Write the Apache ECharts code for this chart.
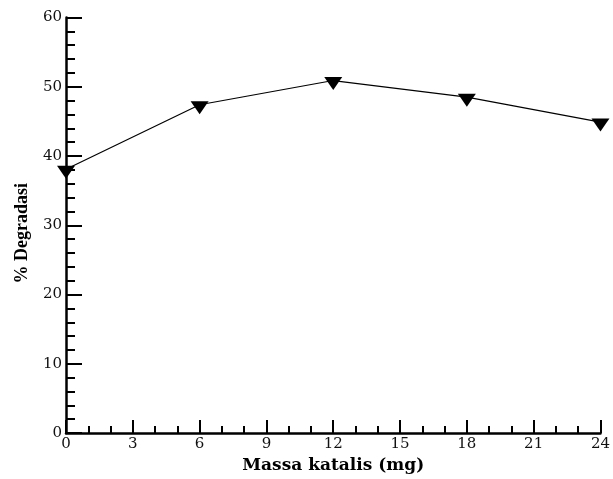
<!DOCTYPE html>
<html>
<head>
<meta charset="utf-8">
<script src="https://cdn.jsdelivr.net/npm/echarts@6/dist/echarts.min.js"></script>
<style>
  html, body { margin: 0; padding: 0; background: #fff; }
  #chart { width: 613px; height: 479px; }
</style>
</head>
<body>
<div id="chart"></div>
<script>
// catalyst mass (mg) and degradation (%)
const massa = [0, 6, 12, 18, 24]
const degradasi = [38.1, 47.4, 50.9, 48.5, 44.9]

const chart = echarts.init(document.getElementById('chart'))

const font = 'DejaVu Serif'

chart.setOption({
  backgroundColor: '#fff',
  animation: false,
  grid: { left: 66, right: 9, top: 17.5, bottom: 41 },
  xAxis: {
    type: 'value',
    min: 0, max: 24, interval: 3,
    name: 'Massa katalis (mg)',
    nameLocation: 'middle',
    nameGap: 23,
    nameTextStyle: { fontFamily: font, fontSize: 17, fontWeight: 'bold', color: '#000' },
    axisLine: { lineStyle: { color: '#000', width: 2.5 } },
    axisTick: { inside: true, length: 13, lineStyle: { color: '#000', width: 2 } },
    minorTick: { show: true, splitNumber: 3, length: 7, lineStyle: { color: '#000', width: 2 } },
    axisLabel: { fontFamily: font, fontSize: 15, color: '#111', margin: 4 },
    splitLine: { show: false }
  },
  yAxis: {
    type: 'value',
    min: 0, max: 60, interval: 10,
    name: '% Degradasi',
    nameLocation: 'middle',
    nameGap: 35,
    nameTextStyle: { fontFamily: 'Liberation Serif', fontSize: 18, fontWeight: 'bold', color: '#000', padding: [0, 16, 0, 0] },
    axisLine: { show: true, lineStyle: { color: '#000', width: 2.5 } },
    axisTick: { inside: true, length: 16, lineStyle: { color: '#000', width: 2 } },
    minorTick: { show: true, splitNumber: 5, length: 9, lineStyle: { color: '#000', width: 2 } },
    axisLabel: { fontFamily: font, fontSize: 15, color: '#111', margin: 4 },
    splitLine: { show: false }
  },
  series: [{
    type: 'line',
    data: massa.map((m, i) => [m, degradasi[i]]),
    symbol: 'triangle',
    symbolRotate: 180,
    symbolSize: [18, 13],
    symbolOffset: [0, 3],
    itemStyle: { color: '#000' },
    lineStyle: { color: '#000', width: 1.2 },
    clip: false
  }]
})
</script>
</body>
</html>
